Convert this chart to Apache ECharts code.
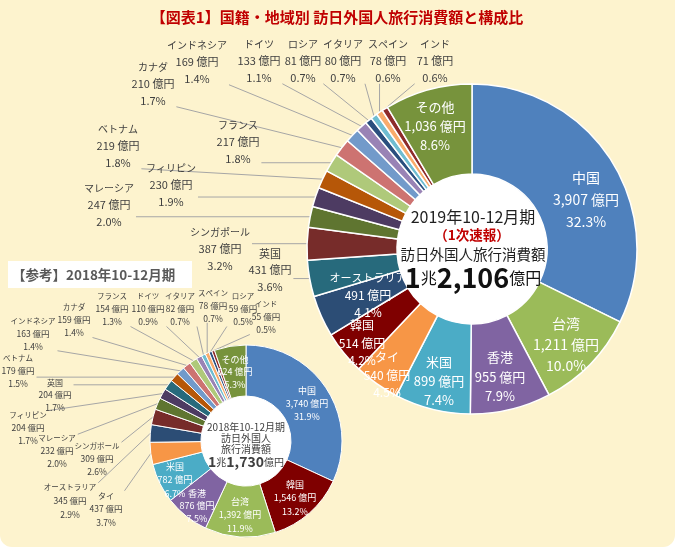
<!DOCTYPE html>
<html><head><meta charset="utf-8">
<script src="https://cdn.jsdelivr.net/npm/echarts@6/dist/echarts.min.js"></script>
<style>html,body{margin:0;padding:0;background:#fff}#c{width:675px;height:547px}</style>
</head><body><div id="c"></div>
<script>
// ---------- DATA ----------
const names2019 = ['中国','台湾','香港','米国','タイ','韓国','オーストラリア','英国','シンガポール','マレーシア','フィリピン','ベトナム','フランス','カナダ','インドネシア','ドイツ','ロシア','イタリア','スペイン','インド','その他'];
const values2019 = [3907,1211,955,899,540,514,491,431,387,247,230,219,217,210,169,133,81,80,78,71,1036];
const names2018 = ['中国','韓国','台湾','香港','米国','タイ','オーストラリア','シンガポール','マレーシア','フィリピン','英国','ベトナム','インドネシア','カナダ','フランス','ドイツ','イタリア','スペイン','ロシア','インド','その他'];
const values2018 = [3740,1546,1392,876,782,437,345,309,232,204,204,179,163,159,154,110,82,78,59,55,624];
const titleText = '【図表1】国籍・地域別 訪日外国人旅行消費額と構成比';
const period2019 = '2019年10-12月期';
const period2018 = '2018年10-12月期';

// ---------- STYLE / LAYOUT ----------
const FONT = "'Noto Sans CJK JP', 'Noto Sans', sans-serif";
const colors = {
  '中国':'#4F81BD','韓国':'#7F0000','台湾':'#9BBB59','香港':'#8064A2','米国':'#4BACC6','タイ':'#F79646',
  'オーストラリア':'#2C4D75','シンガポール':'#772C2A','マレーシア':'#5F7530','フィリピン':'#4D3B62','英国':'#276A7C',
  'ベトナム':'#B65708','インドネシア':'#729ACA','カナダ':'#CD7371','フランス':'#AFC97A','ドイツ':'#9983B5',
  'イタリア':'#6FBDD1','スペイン':'#F9AB6B','ロシア':'#2A4F7E','インド':'#8E2B2A','その他':'#77933C'
};
const MAIN_C = [472, 249], MAIN_R = [75, 165];
const SUB_C = [246, 441], SUB_R = [45, 96];
// label centres [x, y, fontSize, lineHeight, inside, nameFontSize]
const pos2019 = {
  '中国':[586,200,14,22,1,14],'台湾':[566,345,14,21,1,14],'香港':[500,377,13,19.5,1,13],'米国':[439,381,13,19,1,13],
  'タイ':[387,375,12,17.5,1,12],'韓国':[362,343,12,17.5,1,12],'オーストラリア':[368,295,12,17.5,1,11],'その他':[435,126,13,19,1,13],
  '英国':[270,270,11,16.5,0,11],'シンガポール':[220,249,11,16.5,0,10],'マレーシア':[109,205,11,16.5,0,10],'フィリピン':[171,185,11,16.5,0,10],
  'ベトナム':[118,146,11,16.5,0,10],'フランス':[238,142,11,16.5,0,10],'カナダ':[153,84,11,16.5,0,10],'インドネシア':[197,62,11,16.5,0,10],
  'ドイツ':[259,61,11,16.5,0,10],'ロシア':[303,61,11,16.5,0,10],'イタリア':[343,61,11,16.5,0,10],'スペイン':[388,61,11,16.5,0,10],'インド':[435,61,11,16.5,0,10]
};
const pos2018 = {
  '中国':[307,404,9,13,1,9],'韓国':[295,498,9,13.5,1,9],'台湾':[240,515,9,13.5,1,9],'香港':[197,506,9,12.5,1,9],'米国':[175,480,9,13.5,1,9],'その他':[235,372,9,12.5,1,9],
  'タイ':[106,509,8.5,13.5,0,8],'オーストラリア':[70,501,8.5,13.5,0,7.5],'シンガポール':[97,459,8.5,12.5,0,7.5],'マレーシア':[57,451,8.5,12.5,0,7.5],
  'フィリピン':[28,428,8.5,13,0,7.5],'英国':[55,395,8.5,12.5,0,8],'ベトナム':[18,371,8.5,13,0,7.5],'インドネシア':[33,334,8.5,12.5,0,7.5],
  'カナダ':[74,320,8.5,13,0,7.5],'フランス':[112,309,8.5,13,0,7.5],'ドイツ':[148,309,8.5,13,0,7.5],'イタリア':[180,309,8.5,13,0,7.5],
  'スペイン':[213,306,8.5,12.5,0,7.5],'ロシア':[243,309,8.5,13,0,7.5],'インド':[266,317,8.5,13,0,7.5]
};

function sum(a){ return a.reduce((s,v)=>s+v,0); }
function fmtNum(v){ return v.toLocaleString('en-US'); }
function totalText(t){ return { big1: String(Math.floor(t/10000)), big2: fmtNum(t % 10000) }; }

function buildData(names, values, pos){
  return names.map((n,i)=>{
    const p = pos[n];
    const col = p[4] ? '#FFFFFF' : '#404040';
    return {
      name:n, value:values[i],
      itemStyle:{color:colors[n]},
      label:{color:col, fontSize:p[2], lineHeight:p[3],
        rich:{n:{fontSize:p[5], lineHeight:p[3], color:col, fontFamily:FONT}, v:{fontSize:p[2], lineHeight:p[3], color:col, fontFamily:FONT}}},
      labelLine:{show: !p[4]}
    };
  });
}
function makeFormatter(values){
  const t = sum(values);
  return function(p){
    return '{n|' + p.name + '}\n{v|' + fmtNum(p.value) + ' 億円}\n{v|' + (p.value / t * 100).toFixed(1) + '%}';
  };
}
function makeLayout(names, pos){
  return function(p){
    const q = pos[names[p.dataIndex]];
    const w = p.labelRect.width, h = p.labelRect.height;
    const res = {x:q[0], y:q[1], align:'center', verticalAlign:'middle'};
    if (!q[4] && p.labelLinePoints){
      const a = p.labelLinePoints[0];
      const x0 = q[0]-w/2, x1 = q[0]+w/2, y0 = q[1]-h/2+2, y1 = q[1]+h/2-2;
      const ex = Math.min(Math.max(a[0], x0-2), x1+2);
      const ey = Math.min(Math.max(a[1], y0), y1);
      res.labelLinePoints = [a, [ex, ey], [ex, ey]];
    }
    return res;
  };
}
function pieSeries(names, values, pos, center, radius, bw){
  return {
    type:'pie', center:center, radius:radius, startAngle:90, clockwise:true,
    avoidLabelOverlap:false, animation:false, silent:true,
    itemStyle:{borderColor:'#FFFFFF', borderWidth:bw},
    label:{show:true, position:'outside', fontFamily:FONT, formatter:makeFormatter(values), align:'center'},
    labelLine:{show:true, length:5, length2:5, lineStyle:{color:'#A6A6A6', width:1}},
    labelLayout: makeLayout(names, pos),
    emphasis:{disabled:true},
    data: buildData(names, values, pos)
  };
}
function holeSeries(center, r){
  return { type:'pie', center:center, radius:[0,r], silent:true, animation:false, z:1,
    label:{show:false}, labelLine:{show:false}, emphasis:{disabled:true},
    data:[{value:1, itemStyle:{color:'#FFFFFF'}}] };
}

const t19 = totalText(sum(values2019));
const t18 = totalText(sum(values2018));

const chart = echarts.init(document.getElementById('c'), null, {renderer:'canvas'});
chart.setOption({
  animation:false,
  series:[
    holeSeries(MAIN_C, MAIN_R[0]+2),
    holeSeries(SUB_C, SUB_R[0]+2),
    pieSeries(names2019, values2019, pos2019, MAIN_C, MAIN_R, 1.5),
    pieSeries(names2018, values2018, pos2018, SUB_C, SUB_R, 1)
  ],
  graphic:[
    {type:'rect', z:-10, silent:true, shape:{x:0, y:-20, width:675, height:567, r:12}, style:{fill:'#FDF3CE'}},
    {type:'rect', z:-9, silent:true, shape:{x:8, y:261, width:184, height:27}, style:{fill:'#FFFFFF'}},
    {type:'text', z:100, silent:true, x:12, y:275, style:{text:'【参考】' + period2018, font:'bold 13.5px ' + FONT, fill:'#595959', align:'left', verticalAlign:'middle'}},
    {type:'text', z:100, silent:true, x:337, y:17, style:{text:titleText, font:'bold 15px ' + FONT, fill:'#C00000', align:'center', verticalAlign:'middle'}},
    {type:'text', z:100, silent:true, x:473, y:217, style:{text:period2019, font:'16px ' + FONT, fill:'#1F1F1F', align:'center', verticalAlign:'middle'}},
    {type:'text', z:100, silent:true, x:472, y:235, style:{text:'（1次速報）', font:'bold 13.5px ' + FONT, fill:'#C00000', align:'center', verticalAlign:'middle'}},
    {type:'text', z:100, silent:true, x:473, y:254, style:{text:'訪日外国人旅行消費額', font:'14.5px ' + FONT, fill:'#1F1F1F', align:'center', verticalAlign:'middle'}},
    {type:'text', z:100, silent:true, x:473, y:278, style:{
      text:'{a|' + t19.big1 + '}{b|兆}{a|' + t19.big2 + '}{b|億円}', align:'center', verticalAlign:'middle',
      rich:{a:{font:'bold 27px ' + FONT, fill:'#111111'}, b:{font:'16px ' + FONT, fill:'#111111'}}}},
    {type:'text', z:100, silent:true, x:246, y:427, style:{text:period2018, font:'10px ' + FONT, fill:'#404040', align:'center', verticalAlign:'middle'}},
    {type:'text', z:100, silent:true, x:246, y:438, style:{text:'訪日外国人', font:'10px ' + FONT, fill:'#404040', align:'center', verticalAlign:'middle'}},
    {type:'text', z:100, silent:true, x:246, y:449, style:{text:'旅行消費額', font:'10px ' + FONT, fill:'#404040', align:'center', verticalAlign:'middle'}},
    {type:'text', z:100, silent:true, x:246, y:462, style:{
      text:'{a|' + t18.big1 + '}{b|兆}{a|' + t18.big2 + '}{b|億円}', align:'center', verticalAlign:'middle',
      rich:{a:{font:'bold 14px ' + FONT, fill:'#404040'}, b:{font:'10px ' + FONT, fill:'#404040'}}}}
  ]
});
</script>
</body></html>
